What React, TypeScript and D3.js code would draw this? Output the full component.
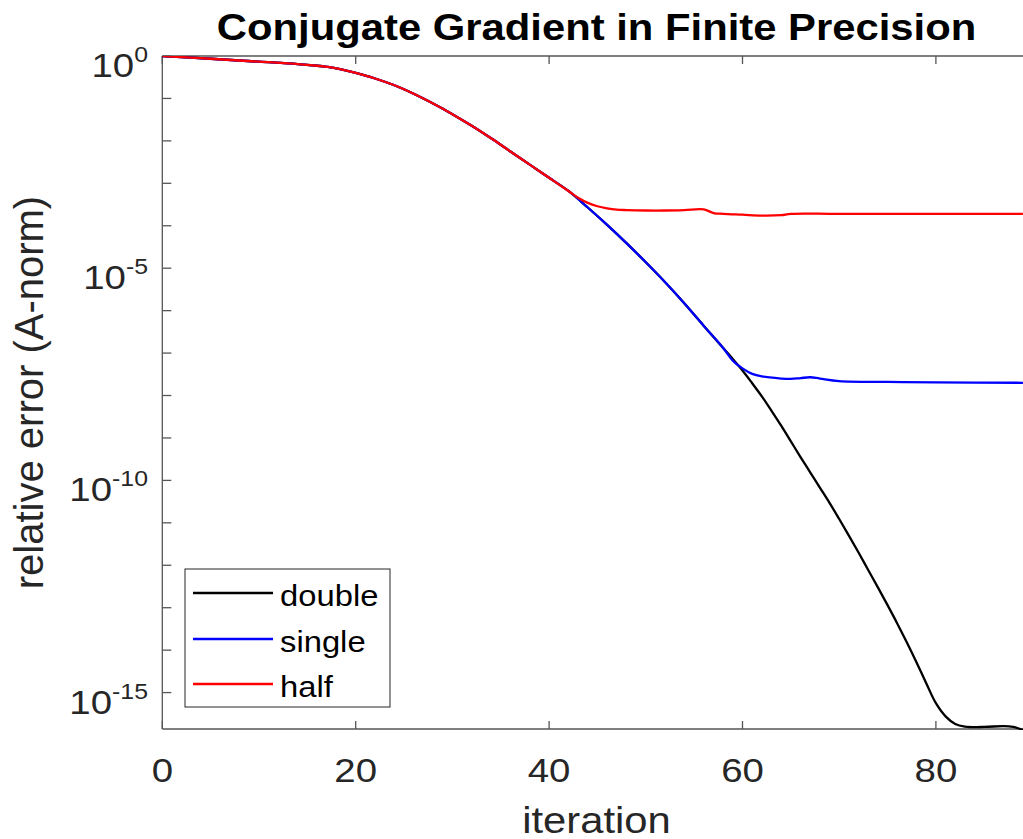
import React from 'react';
import * as d3 from 'd3';

// ---------------- data (log10 of relative error in A-norm) ----------------
const xTickValues = [0, 20, 40, 60, 80];
const yMajorExps = [0, -5, -10, -15];
const yTickExps = [0, -1, -2, -3, -4, -5, -6, -7, -8, -9, -10, -11, -12, -13, -14, -15];

// all three precisions coincide at first
const commonIter = [0, 5, 10, 14, 16, 17, 18, 20, 22, 24, 26, 28, 30, 32, 34, 36, 38, 40, 42];
const commonLog = [0, -0.065, -0.134, -0.19, -0.23, -0.255, -0.29, -0.4, -0.53, -0.69, -0.89, -1.12, -1.37, -1.645, -1.94, -2.25, -2.56, -2.87, -3.18];

// double & single coincide until ~58
const sharedIter = [44, 46, 48, 50, 52, 54, 56, 58];
const sharedLog = [-3.57, -3.98, -4.41, -4.86, -5.33, -5.83, -6.36, -6.88];

const doubleTailIter = [59, 60, 61, 62, 63, 64, 65, 66, 67, 68, 69, 70, 71, 72, 73, 74, 75, 76, 77, 78, 79, 80, 81, 82, 83, 85, 87, 88, 89];
const doubleTailLog = [-7.14, -7.41, -7.71, -8.02, -8.36, -8.71, -9.08, -9.45, -9.81, -10.17, -10.53, -10.91, -11.3, -11.7, -12.11, -12.52, -12.94, -13.37, -13.82, -14.29, -14.78, -15.25, -15.56, -15.74, -15.8, -15.81, -15.79, -15.81, -15.88];

const singleTailIter = [59, 60, 61, 62, 64, 65, 66, 67, 68, 70, 75, 80, 89];
const singleTailLog = [-7.18, -7.36, -7.49, -7.55, -7.6, -7.61, -7.59, -7.57, -7.6, -7.66, -7.68, -7.69, -7.7];

const halfTailIter = [43, 44, 45, 46, 47, 48, 50, 52, 54, 56, 57, 58, 60, 62, 64, 65, 70, 89];
const halfTailLog = [-3.34, -3.46, -3.54, -3.59, -3.62, -3.63, -3.64, -3.64, -3.63, -3.615, -3.7, -3.72, -3.74, -3.76, -3.75, -3.72, -3.72, -3.72];

const seriesNames = ['double', 'single', 'half'];
const seriesColors = ['#000000', '#0000ff', '#ff0000'];

// --------------------------------------------------------------------------
const W = 1023;
const H = 839;
const AX_L = 162.3;
const AX_T = 56;
const AX_B = 729;
const AX_R = AX_L + 90 * 9.67;
const SX = 1.13;
const FONT = "'Liberation Sans', Arial, Helvetica, sans-serif";
const AXIS_COLOR = '#262626';

function toPoints(iters: number[], logs: number[]) {
  return iters.map((it, i) => ({ x: it, y: Math.pow(10, logs[i]) }));
}

const doubleData = toPoints(
  [...commonIter, ...sharedIter, ...doubleTailIter],
  [...commonLog, ...sharedLog, ...doubleTailLog]
);
const singleData = toPoints(
  [...commonIter, ...sharedIter, ...singleTailIter],
  [...commonLog, ...sharedLog, ...singleTailLog]
);
const halfData = toPoints([...commonIter, ...halfTailIter], [...commonLog, ...halfTailLog]);
const allSeries = [doubleData, singleData, halfData];

function SText(props: {
  x: number;
  y: number;
  anchor?: string;
  size: number;
  weight?: string | number;
  rotate?: boolean;
  sx?: number;
  fill?: string;
  children: React.ReactNode;
}) {
  const { x, y, anchor = 'start', size, weight = 'normal', rotate = false, sx = SX, fill = AXIS_COLOR, children } = props;
  const tf = `translate(${x},${y}) scale(${sx},1)` + (rotate ? ' rotate(-90)' : '');
  return (
    <text
      transform={tf}
      textAnchor={anchor}
      fontFamily={FONT}
      fontSize={size}
      fontWeight={weight}
      fill={fill}
    >
      {children}
    </text>
  );
}

export default function App() {
  const x = d3.scaleLinear().domain([0, 90]).range([AX_L, AX_R]);
  const y = d3.scaleLog().domain([Math.pow(10, -15.858), 1]).range([AX_B, AX_T]);
  const line = d3
    .line<{ x: number; y: number }>()
    .x((d) => x(d.x))
    .y((d) => y(d.y))
    .curve(d3.curveCatmullRom.alpha(0.5));

  const legendX = 185;
  const legendY = 569;
  const legendW = 205;
  const legendH = 138;
  const rowYs = [593, 639, 684];

  return (
    <svg
      width={W}
      height={H}
      style={{ position: 'absolute', left: 0, top: 0, background: '#fff' }}
    >
      <rect x={0} y={0} width={W} height={H} fill="#fff" />
      <defs>
        <clipPath id="plotclip">
          <rect x={AX_L} y={AX_T} width={AX_R - AX_L} height={AX_B - AX_T + 1} />
        </clipPath>
      </defs>

      {/* title */}
      <SText x={596.5} y={40} anchor="middle" size={37} weight="bold" fill="#000">
        Conjugate Gradient in Finite Precision
      </SText>

      {/* axes box */}
      <g stroke="#555" strokeWidth={1.3} fill="none">
        <line x1={AX_L} x2={AX_R} y1={AX_T} y2={AX_T} />
        <line x1={AX_L} x2={AX_R} y1={AX_B} y2={AX_B} />
        <line x1={AX_L} x2={AX_L} y1={AX_T} y2={AX_B} />
        <line x1={AX_R} x2={AX_R} y1={AX_T} y2={AX_B} />
        {xTickValues.map((t) => (
          <g key={'xt' + t}>
            <line x1={x(t)} x2={x(t)} y1={AX_B} y2={AX_B - 8} />
            <line x1={x(t)} x2={x(t)} y1={AX_T} y2={AX_T + 8} />
          </g>
        ))}
        {yTickExps.map((e) => (
          <g key={'yt' + e}>
            <line x1={AX_L} x2={AX_L + 9} y1={y(Math.pow(10, e))} y2={y(Math.pow(10, e))} />
            <line x1={AX_R} x2={AX_R - 9} y1={y(Math.pow(10, e))} y2={y(Math.pow(10, e))} />
          </g>
        ))}
      </g>

      {/* x tick labels */}
      {xTickValues.map((t) => (
        <SText key={'xl' + t} x={x(t)} y={782} anchor="middle" size={34}>
          {String(t)}
        </SText>
      ))}

      {/* y tick labels */}
      {yMajorExps.map((e) => (
        <SText key={'yl' + e} x={148} y={y(Math.pow(10, e)) + 21} anchor="end" size={34}>
          <tspan>10</tspan>
          <tspan dy={-15} fontSize={22}>
            {e === 0 ? '0' : '-' + String(-e)}
          </tspan>
        </SText>
      ))}

      {/* axis labels */}
      <SText x={596.5} y={833} anchor="middle" size={37}>
        iteration
      </SText>
      <SText x={43} y={(AX_T + AX_B) / 2} anchor="middle" size={40} sx={1} rotate>
        relative error (A-norm)
      </SText>

      {/* series */}
      <g clipPath="url(#plotclip)">
        {allSeries.map((s, i) => (
          <path
            key={seriesNames[i]}
            d={line(s) || ''}
            fill="none"
            stroke={seriesColors[i]}
            strokeWidth={2.3}
            strokeLinejoin="round"
          />
        ))}
      </g>

      {/* legend */}
      <rect
        x={legendX}
        y={legendY}
        width={legendW}
        height={legendH}
        fill="#fff"
        stroke={AXIS_COLOR}
        strokeWidth={1}
      />
      {seriesNames.map((name, i) => (
        <g key={'lg' + name}>
          <line x1={193} x2={273} y1={rowYs[i]} y2={rowYs[i]} stroke={seriesColors[i]} strokeWidth={2.3} />
          <SText x={280} y={rowYs[i] + 13} size={29} fill="#000">
            {name}
          </SText>
        </g>
      ))}
    </svg>
  );
}
